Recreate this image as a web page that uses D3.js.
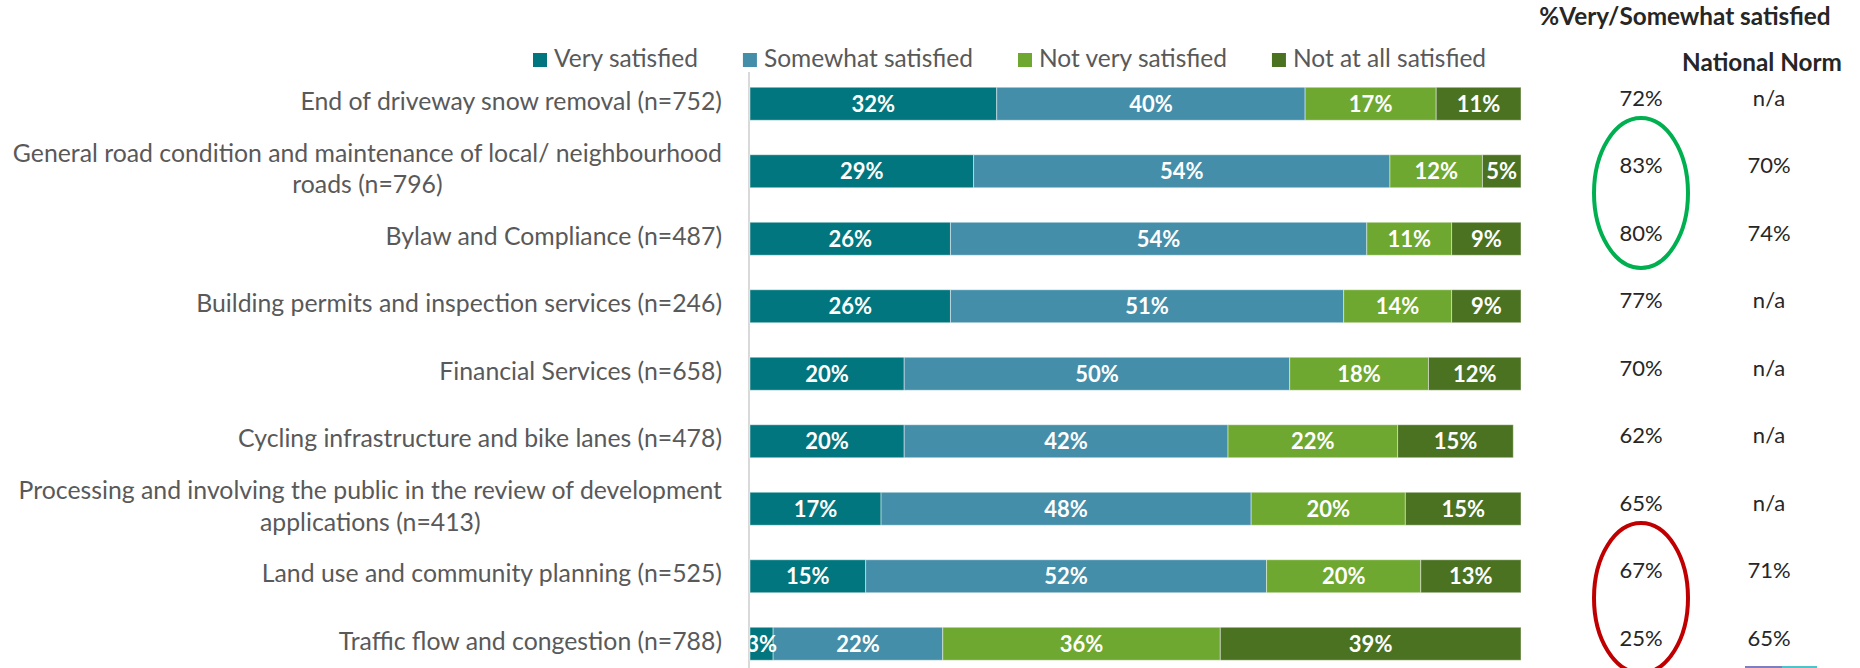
<html>
  <head>
    <meta charset="UTF-8">
    <title>Satisfaction with services</title>
    <style type="text/css">
      body {
        margin: 0;
        background-color: #fff;
      }
      svg {
        display: block;
        font-family: Lato, "Open Sans", sans-serif;
      }
      .cat {
        fill: #595959;
        font-size: 24.8px;
      }
      .legend text {
        fill: #595959;
        font-size: 24.5px;
      }
      .segLabel {
        fill: #fff;
        font-weight: bold;
        font-size: 22px;
      }
      .colHead {
        fill: #262626;
        font-weight: bold;
        font-size: 24.3px;
      }
      .colVal {
        fill: #262626;
        font-size: 22px;
      }
    </style>
    <script src="https://cdn.jsdelivr.net/npm/d3@7"></script>
  </head>
  <body>

    <div id="chart"></div>

    <script type="text/javascript">

      var width = 1860, height = 668;

      // Data
      var categories = [
        "End of driveway snow removal (n=752)",
        "General road condition and maintenance of local/ neighbourhood\nroads (n=796)",
        "Bylaw and Compliance (n=487)",
        "Building permits and inspection services (n=246)",
        "Financial Services (n=658)",
        "Cycling infrastructure and bike lanes (n=478)",
        "Processing and involving the public in the review of development\napplications (n=413)",
        "Land use and community planning (n=525)",
        "Traffic flow and congestion (n=788)"
      ];
      var seriesNames = ["Very satisfied", "Somewhat satisfied", "Not very satisfied", "Not at all satisfied"];
      var verySatisfied     = [32, 29, 26, 26, 20, 20, 17, 15, 3];
      var somewhatSatisfied = [40, 54, 54, 51, 50, 42, 48, 52, 22];
      var notVerySatisfied  = [17, 12, 11, 14, 18, 22, 20, 20, 36];
      var notAtAllSatisfied = [11, 5, 9, 9, 12, 15, 15, 13, 39];
      var topTwoBox    = ["72%", "83%", "80%", "77%", "70%", "62%", "65%", "67%", "25%"];
      var nationalNorm = ["n/a", "70%", "74%", "n/a", "n/a", "n/a", "n/a", "71%", "65%"];
      var columnHeads  = ["%Very/Somewhat satisfied", "National Norm"];
      // rows circled in the right-hand column
      var circled = [
        {rows: [1, 2], colour: "#00b050"},
        {rows: [7, 8], colour: "#c00000"}
      ];
      var colours = ["#02767e", "#448eaa", "#6ea830", "#4a7220"];

      // build rows for d3.stack
      var table = categories.map(function(c, i) {
        var row = {category: c};
        row[seriesNames[0]] = verySatisfied[i];
        row[seriesNames[1]] = somewhatSatisfied[i];
        row[seriesNames[2]] = notVerySatisfied[i];
        row[seriesNames[3]] = notAtAllSatisfied[i];
        return row;
      });
      var stacked = d3.stack().keys(seriesNames)(table);

      var svg = d3.select("#chart")
        .append("svg")
        .attr("width", width)
        .attr("height", height);

      var xScale = d3.scaleLinear().domain([0, 100]).range([750, 1521]);
      var yScale = d3.scaleBand().domain(categories).range([70, 677.5])
        .paddingInner(0.511).paddingOuter(0.2555);
      var cScale = d3.scaleOrdinal().domain(seriesNames).range(colours);
      var colScale = d3.scalePoint().domain(["sat", "norm"]).range([1641, 1769]);

      var bw = yScale.bandwidth();
      function mid(c) { return yScale(c) + bw / 2; }

      // axis line
      svg.append("line")
        .attr("x1", xScale(0) - 1).attr("x2", xScale(0) - 1)
        .attr("y1", 72).attr("y2", height)
        .attr("stroke", "#d9d9d9").attr("stroke-width", 2);

      // bars
      var layers = svg.selectAll(".layer")
        .data(stacked)
        .enter().append("g")
        .attr("class", "layer")
        .attr("fill", function(d) { return cScale(d.key); });

      layers.selectAll("rect")
        .data(function(d) { return d; })
        .enter().append("rect")
        .attr("x", function(d) { return xScale(d[0]); })
        .attr("y", function(d) { return yScale(d.data.category); })
        .attr("width", function(d) { return xScale(d[1]) - xScale(d[0]); })
        .attr("height", bw)
        .attr("stroke", "rgba(255,255,255,0.45)")
        .attr("stroke-width", 1);

      // labels in bars, clipped at the axis
      svg.append("clipPath").attr("id", "plotClip")
        .append("rect")
        .attr("x", xScale(0)).attr("y", 0)
        .attr("width", width - xScale(0)).attr("height", height);

      var labelG = svg.append("g").attr("clip-path", "url(#plotClip)");
      stacked.forEach(function(layer) {
        labelG.selectAll(null)
          .data(layer)
          .enter().append("text")
          .attr("class", "segLabel")
          .attr("text-anchor", "middle")
          .attr("x", function(d) { return (xScale(d[0]) + xScale(d[1])) / 2; })
          .attr("y", function(d) { return mid(d.data.category) + 8; })
          .text(function(d) { return (d[1] - d[0]) + "%"; });
      });

      // category labels (multi-line ones centred on each other)
      var labelRight = 722;
      categories.forEach(function(c) {
        var lines = c.split("\n");
        var t = svg.append("text").attr("class", "cat");
        var spans = lines.map(function(line, j) {
          return t.append("tspan")
            .attr("y", mid(c) + 6 + (j - (lines.length - 1) / 2) * 31.5)
            .text(line);
        });
        if (lines.length == 1) {
          t.attr("text-anchor", "end");
          spans[0].attr("x", labelRight);
        } else {
          var maxW = d3.max(spans, function(s) { return s.node().getComputedTextLength(); });
          t.attr("text-anchor", "middle");
          spans.forEach(function(s) { s.attr("x", labelRight - maxW / 2); });
        }
      });

      // legend
      var legend = svg.append("g").attr("class", "legend");
      var lx = 533;
      seriesNames.forEach(function(s) {
        legend.append("rect")
          .attr("x", lx).attr("y", 53)
          .attr("width", 14).attr("height", 14)
          .attr("fill", cScale(s));
        var t = legend.append("text")
          .attr("x", lx + 21).attr("y", 67)
          .text(s);
        lx += 21 + t.node().getComputedTextLength() + 45;
      });

      // right-hand columns
      svg.append("text").attr("class", "colHead")
        .attr("x", 1685).attr("y", 25)
        .attr("text-anchor", "middle")
        .text(columnHeads[0]);
      svg.append("text").attr("class", "colHead")
        .attr("x", 1762).attr("y", 71)
        .attr("text-anchor", "middle")
        .text(columnHeads[1]);

      svg.selectAll(".satVal")
        .data(topTwoBox)
        .enter().append("text")
        .attr("class", "colVal satVal")
        .attr("text-anchor", "middle")
        .attr("x", colScale("sat"))
        .attr("y", function(d, i) { return mid(categories[i]) + 2; })
        .text(function(d) { return d; });

      svg.selectAll(".normVal")
        .data(nationalNorm)
        .enter().append("text")
        .attr("class", "colVal normVal")
        .attr("text-anchor", "middle")
        .attr("x", colScale("norm"))
        .attr("y", function(d, i) { return mid(categories[i]) + 2; })
        .text(function(d) { return d; });

      // highlight ellipses
      svg.selectAll(".ring")
        .data(circled)
        .enter().append("ellipse")
        .attr("class", "ring")
        .attr("cx", colScale("sat"))
        .attr("cy", function(d) {
          return (mid(categories[d.rows[0]]) + mid(categories[d.rows[1]])) / 2 - 12;
        })
        .attr("rx", 47)
        .attr("ry", 75)
        .attr("fill", "none")
        .attr("stroke", function(d) { return d.colour; })
        .attr("stroke-width", 4);

      // small leftover slide rule at bottom right
      svg.append("rect").attr("x", 1745).attr("y", 666).attr("width", 37).attr("height", 2).attr("fill", "#7f7fbf");
      svg.append("rect").attr("x", 1782).attr("y", 666).attr("width", 35).attr("height", 2).attr("fill", "#4fc3c8");

    </script>

  </body>
</html>
